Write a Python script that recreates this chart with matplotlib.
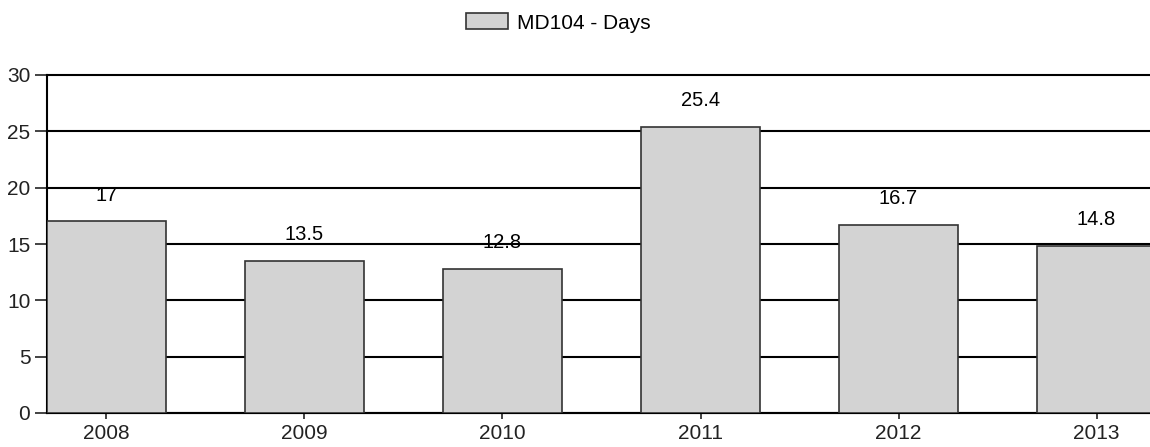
import matplotlib.pyplot as plt

# -----------------------------
# Data
years = ["2008", "2009", "2010", "2011", "2012", "2013"]
days = [17, 13.5, 12.8, 25.4, 16.7, 14.8]
value_labels = ["17", "13.5", "12.8", "25.4", "16.7", "14.8"]

plt.rcParams['font.family'] = ['Liberation Sans', 'DejaVu Sans']

fig = plt.figure(figsize=(11.5, 4.47), dpi=100)
ax = fig.add_axes([47 / 1150, 1 - 413 / 447, 1109 / 1150, 338 / 447])

x = range(len(years))
ax.bar(x, days, width=0.6, color='#d3d3d3', edgecolor='#333333',
       linewidth=1.2, label='MD104 - Days', zorder=3)

# value labels above each bar
for xi, v, lab in zip(x, days, value_labels):
    ax.annotate(lab, (xi, v), xytext=(0, 19), textcoords='offset points',
                ha='center', va='center', fontsize=14.5)

ax.set_ylim(0, 30)
ax.set_xlim(-0.3, 5.3)
ax.set_yticks(range(0, 31, 5))
ax.set_xticks(list(x))
ax.set_xticklabels(years)
ax.yaxis.grid(True, color='black', linewidth=1.5, zorder=0)
ax.set_axisbelow(True)
for gl in ax.get_ygridlines():
    gl.set_clip_on(False)   # keep the line at 30 full width

for side in ['top', 'right']:
    ax.spines[side].set_visible(False)
ax.spines['left'].set_linewidth(1.5)
ax.spines['bottom'].set_linewidth(1.5)
ax.tick_params(axis='both', labelsize=15, width=1.2, colors='#222222')
ax.tick_params(axis='y', length=9, pad=3)
ax.tick_params(axis='x', length=4.5, pad=3.5)

fig.legend(loc='center', bbox_to_anchor=(0.4857, 1 - 23 / 447), frameon=False,
           fontsize=15, handlelength=2, handleheight=0.8, handletextpad=0.45,
           borderpad=0)

fig.savefig('out.png', dpi=100)
